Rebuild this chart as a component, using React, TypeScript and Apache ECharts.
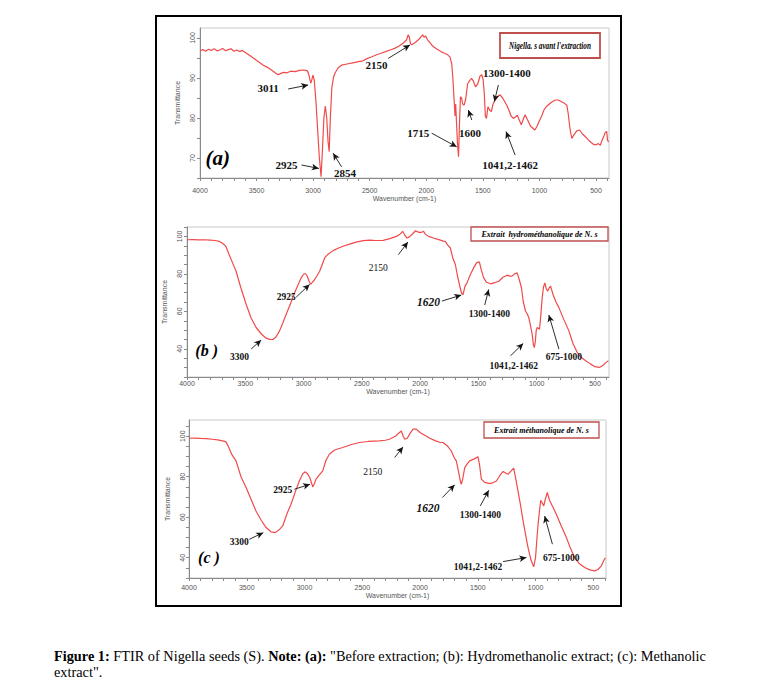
import React, { useEffect, useRef } from "react";
import * as echarts from "echarts";

type Pt = [number, number];
type Note = { text: string; at: Pt; from: Pt; to: Pt; kind?: "italic" | "plain" };

// ---------- spectra (wavenumber cm-1, transmittance %) ----------
const spectrumA: Pt[] = [
  [4000, 96.8], [3975, 97.1], [3950, 96.7], [3925, 97.2], [3900, 96.9], [3875, 97.3], [3850, 96.8],
  [3825, 97.0], [3800, 97.4], [3775, 96.8], [3750, 97.1], [3725, 97.3], [3700, 96.7], [3675, 97.0],
  [3650, 96.6], [3625, 96.9], [3600, 96.4], [3560, 95.6], [3520, 94.8], [3480, 94.0], [3440, 93.2],
  [3400, 92.6], [3360, 91.8], [3330, 91.2], [3310, 90.8], [3290, 91.1], [3260, 91.4], [3230, 91.3],
  [3200, 91.7], [3160, 91.6], [3120, 91.9], [3080, 92.0], [3050, 91.8], [3035, 90.5], [3022, 88.7],
  [3012, 89.5], [3002, 90.7], [2990, 89.5], [2975, 84], [2960, 77], [2945, 70], [2930, 65.3],
  [2918, 72], [2905, 80], [2892, 83], [2880, 80], [2868, 74], [2858, 71.6], [2848, 80], [2835, 87.5],
  [2820, 90.2], [2805, 91.3], [2780, 92.5], [2750, 93.2], [2700, 93.5], [2650, 93.8], [2600, 94.1],
  [2560, 94.3], [2520, 94.9], [2480, 95.3], [2440, 95.8], [2400, 96.2], [2360, 96.6], [2320, 97.0],
  [2280, 97.4], [2240, 98.0], [2200, 98.8], [2175, 99.5], [2160, 100.8], [2150, 100.2], [2140, 98.6],
  [2128, 98.3], [2110, 98.6], [2085, 99.2], [2060, 99.8], [2045, 100.4], [2032, 100.8], [2020, 100.2],
  [2005, 100.5], [1990, 99.6], [1970, 98.9], [1950, 98.2], [1930, 97.7], [1900, 97.1], [1870, 96.6],
  [1840, 96.2], [1810, 95.8], [1790, 95.2], [1775, 93.5], [1765, 90], [1755, 85], [1746, 80.5],
  [1740, 83.5], [1733, 79], [1725, 74], [1715, 70.3], [1706, 79], [1698, 85.3], [1688, 85],
  [1678, 83.5], [1665, 83.2], [1650, 85], [1635, 88.5], [1620, 89.2], [1600, 89.9], [1585, 89.3],
  [1565, 87.8], [1545, 88.5], [1525, 90.5], [1510, 90.8], [1498, 89.7], [1487, 86], [1478, 80.5],
  [1468, 79.9], [1455, 82.8], [1440, 82], [1425, 81.6], [1410, 83.5], [1392, 84.5], [1370, 85.3],
  [1348, 85.8], [1325, 85], [1305, 84], [1289, 83.2], [1270, 82], [1250, 80.5], [1230, 79.9],
  [1210, 80.3], [1195, 80.7], [1180, 79.6], [1160, 78.3], [1145, 79.5], [1127, 80.8], [1110, 79.8],
  [1097, 79.1], [1080, 78], [1060, 77.5], [1040, 77], [1020, 78], [1000, 79.3], [980, 80.5],
  [960, 82], [940, 82.8], [920, 83.3], [890, 84], [860, 84.5], [832, 84.5], [800, 84], [775, 83.6],
  [758, 83.2], [745, 81], [735, 78.5], [725, 76.5], [713, 74.9], [695, 75.8], [670, 76.8], [645, 77],
  [620, 76], [600, 75.5], [580, 74.9], [560, 74.3], [540, 73.8], [520, 73.4], [500, 73.3], [480, 73.6],
  [462, 73.2], [445, 74.5], [430, 75.5], [418, 76.4], [405, 76.6], [398, 74.5], [389, 74],
];

const spectrumB: Pt[] = [
  [4000, 98.2], [3950, 98.3], [3900, 98.1], [3850, 98.2], [3800, 98.0], [3760, 97.8], [3721, 97.3],
  [3700, 96.5], [3680, 95.5], [3665, 94.5], [3640, 90.5], [3610, 86], [3579, 81.4], [3540, 73],
  [3493, 63.8], [3450, 56.5], [3407, 51.4], [3360, 47.8], [3321, 45.7], [3290, 45.1], [3263, 45],
  [3235, 46.5], [3206, 49.6], [3180, 53.5], [3149, 58.5], [3110, 64.5], [3077, 69.9], [3045, 74.5],
  [3020, 77.9], [3000, 79.8], [2985, 80.2], [2970, 79], [2955, 76.5], [2940, 74.4], [2925, 75.5],
  [2905, 77], [2885, 79], [2862, 81.4], [2840, 85], [2819, 88.5], [2790, 90.5], [2747, 92.4],
  [2700, 93.8], [2650, 95], [2604, 95.9], [2550, 96.9], [2489, 97.7], [2430, 98], [2380, 97.8],
  [2317, 97.9], [2260, 98.8], [2203, 100], [2170, 101.3], [2150, 102.7], [2130, 100.5], [2114, 99.1],
  [2095, 99.6], [2070, 101], [2040, 103], [2020, 102.4], [2000, 102], [1985, 102.3], [1971, 102.7],
  [1955, 101.2], [1928, 100], [1880, 99], [1840, 98.3], [1800, 97.5], [1784, 97.3], [1765, 95.5],
  [1741, 93.8], [1720, 88.5], [1698, 85], [1680, 79], [1660, 73.5], [1645, 69.8], [1632, 69],
  [1615, 73.5], [1598, 75.2], [1570, 79.5], [1541, 83.2], [1515, 86], [1492, 86.4], [1475, 82],
  [1455, 77.9], [1430, 75.5], [1397, 74.7], [1360, 75.3], [1326, 76.1], [1290, 78.2], [1254, 79.3],
  [1232, 78.8], [1211, 78.8], [1190, 80], [1168, 80.5], [1150, 77], [1131, 72.6], [1115, 65],
  [1096, 60.2], [1080, 58.5], [1068, 56.7], [1052, 52], [1039, 47.8], [1028, 42], [1021, 40.7],
  [1012, 44], [1004, 50], [996, 51.4], [986, 51], [976, 50.5], [965, 58], [953, 67.3], [942, 73],
  [930, 75.2], [918, 72], [905, 70.8], [893, 72.5], [881, 73.5], [860, 69], [835, 65], [810, 62],
  [770, 56], [724, 49.6], [690, 43], [652, 38.1], [620, 35.5], [580, 33.7], [540, 32], [500, 30.5],
  [466, 30.1], [440, 30.8], [420, 31.9], [405, 32.8], [385, 33.7],
];

const spectrumC: Pt[] = [
  [4000, 99], [3950, 99.1], [3900, 98.9], [3850, 98.8], [3800, 98.5], [3750, 98.2], [3700, 97.6],
  [3680, 97.2], [3660, 95], [3630, 91], [3593, 87.8], [3550, 80], [3506, 74.7], [3460, 68.5],
  [3420, 63.1], [3375, 58.5], [3333, 54.9], [3290, 52.8], [3253, 52.4], [3220, 53.8], [3189, 55.7],
  [3150, 62], [3117, 66.4], [3080, 72.5], [3045, 77.9], [3015, 81.5], [2993, 82.4], [2975, 81.5],
  [2955, 79.6], [2940, 77], [2929, 75], [2915, 76.5], [2900, 78.8], [2870, 81], [2842, 82.9],
  [2815, 88], [2785, 91.1], [2740, 93.2], [2669, 94.4], [2600, 95.8], [2525, 96.9], [2450, 97.4],
  [2352, 97.7], [2300, 98], [2266, 98.5], [2230, 99.5], [2208, 100.2], [2185, 101.5], [2162, 102.6],
  [2145, 100], [2132, 98.5], [2110, 99], [2085, 101.5], [2060, 103.5], [2032, 103.5], [2010, 102.3],
  [1990, 101.5], [1974, 101], [1945, 100], [1916, 99], [1870, 97.8], [1830, 97], [1801, 96.9],
  [1760, 95], [1729, 92.7], [1705, 89.5], [1686, 87.8], [1665, 82], [1650, 77.5], [1642, 76.3],
  [1630, 79], [1613, 84.5], [1590, 86.5], [1570, 87.8], [1530, 88.8], [1498, 89.8], [1485, 86],
  [1469, 78.8], [1440, 77.2], [1397, 76.6], [1370, 77], [1339, 77.9], [1310, 80.5], [1281, 82.6],
  [1260, 81.8], [1238, 81.2], [1215, 82.6], [1189, 84.2], [1175, 80], [1152, 73], [1130, 66],
  [1108, 58.2], [1085, 51], [1065, 45], [1040, 39], [1016, 35.5], [1000, 40], [990, 48], [978, 56.5],
  [966, 63], [955, 68.4], [942, 67], [929, 65.6], [915, 69], [898, 72.2], [880, 68.5], [850, 65],
  [820, 61.5], [780, 56], [733, 50], [700, 45], [661, 40], [620, 37], [574, 35.2], [530, 34],
  [487, 33.5], [460, 34.2], [430, 36], [410, 38.5], [396, 40],
];

// ---------- axis ticks / labels ----------
const wavenumberLabels = [500, 1000, 1500, 2000, 2500, 3000, 3500, 4000];
const wavenumberTicks = [
  400, 500, 600, 700, 800, 900, 1000, 1100, 1200, 1300, 1400, 1500, 1600, 1700, 1800, 1900, 2000,
  2100, 2200, 2300, 2400, 2500, 2600, 2700, 2800, 2900, 3000, 3100, 3200, 3300, 3400, 3500, 3600,
  3700, 3800, 3900, 4000,
];
const yTicksA = [65, 70, 75, 80, 85, 90, 95, 100];
const yLabelsA = [70, 80, 90, 100];
const yTicksB = [25, 30, 35, 40, 45, 50, 55, 60, 65, 70, 75, 80, 85, 90, 95, 100, 105];
const yTicksC = [30, 35, 40, 45, 50, 55, 60, 65, 70, 75, 80, 85, 90, 95, 100, 105];
const yLabelsBC = [40, 60, 80, 100];

// ---------- annotations ----------
const notesA: Note[] = [
  { text: "3011", at: [3398, 87.4], from: [3221, 87.25], to: [3044, 88.25] },
  { text: "2925", at: [3235, 68.25], from: [3103, 68.25], to: [2950, 67.4] },
  { text: "2854", at: [2719, 66.2], from: [2749, 67.8], to: [2823, 71.2] },
  { text: "2150", at: [2439, 93.25], from: [2336, 94.9], to: [2144, 98.25] },
  { text: "1715", at: [2071, 76.2], from: [1952, 76.2], to: [1731, 72.8] },
  { text: "1600", at: [1613, 76.2], from: [1598, 79.5], to: [1628, 82] },
  { text: "1300-1400", at: [1288, 91.3], from: [1363, 88.25], to: [1398, 84.1] },
  { text: "1041,2-1462", at: [1259, 68.25], from: [1215, 70.75], to: [1295, 76.6] },
];
const notesB: Note[] = [
  { text: "3300", at: [3549, 35.8], from: [3450, 39.9], to: [3364, 44.7] },
  { text: "2925", at: [3149, 67.6], from: [3063, 67.6], to: [2948, 74.4] },
  { text: "2150", at: [2360, 83.2], from: [2186, 90.3], to: [2105, 97], kind: "plain" },
  { text: "1620", at: [1928, 65.1], from: [1813, 65.5], to: [1647, 68.7], kind: "italic" },
  { text: "1300-1400", at: [1406, 58.5], from: [1446, 63.4], to: [1412, 71.7] },
  { text: "1041,2-1462", at: [1197, 31], from: [1225, 36.3], to: [1116, 42.9] },
  { text: "675-1000", at: [767, 35.8], from: [810, 39.9], to: [896, 58.1] },
];
const notesC: Note[] = [
  { text: "3300", at: [3565, 48], from: [3478, 49.1], to: [3357, 52.4] },
  { text: "2925", at: [3189, 73.3], from: [3088, 73.8], to: [2952, 76.3] },
  { text: "2150", at: [2410, 82.1], from: [2219, 89.5], to: [2147, 94.7], kind: "plain" },
  { text: "1620", at: [1931, 64.4], from: [1807, 69.7], to: [1700, 76], kind: "italic" },
  { text: "1300-1400", at: [1478, 61.1], from: [1478, 65.6], to: [1405, 73.3] },
  { text: "1041,2-1462", at: [1498, 35.2], from: [1281, 38.1], to: [1079, 40.1] },
  { text: "675-1000", at: [777, 39.8], from: [854, 46.7], to: [921, 60.6] },
];

const panelLetters = ["(a)", "(b )", "(c )"];
const panelLetterAt: Pt[] = [[3843, 70], [3831, 39], [3827, 40.2]];
const legendTexts = [
  "Nigella. s avant l'extraction",
  "Extrait  hydrométhanolique de N. s",
  "Extrait méthanolique de N. s",
];
const xAxisTitle = "Wavenumber (cm-1)";
const yAxisTitle = "Transmittance";
const captionLine1 =
  '{b|Figure 1:} FTIR of Nigella seeds (S). {b|Note: (a):} "Before extraction; (b): Hydromethanolic extract; (c): Methanolic';
const captionLine2 = 'extract".';

// ---------- styling ----------
const serif = '"Liberation Serif", "Times New Roman", serif';
const sans = '"Liberation Sans", Arial, sans-serif';
const axisGrey = "#8a8a8a";
const labelGrey = "#555";
const captionSize = 14.3;

const panelLayout = [
  { grid: { left: 200, right: 157, top: 28, bottom: 511 }, yMin: 65, yMax: 102.5, xMin: 385,
    xMargin: 9, xNameGap: 17, yMargin: 4, yNameGap: 14, noteSize: 11, letterSize: 21 },
  { grid: { left: 187, right: 157, top: 227, bottom: 312 }, yMin: 25, yMax: 105, xMin: 380,
    xMargin: 3, xNameGap: 10, yMargin: 4, yNameGap: 11, noteSize: 9.5, letterSize: 16 },
  { grid: { left: 189, right: 160, top: 420, bottom: 111 }, yMin: 30, yMax: 108, xMin: 390,
    xMargin: 6, xNameGap: 13, yMargin: 3, yNameGap: 11, noteSize: 9.5, letterSize: 16 },
];

function buildOption() {
  const spectra = [spectrumA, spectrumB, spectrumC];
  const notes = [notesA, notesB, notesC];
  const yTicks = [yTicksA, yTicksB, yTicksC];
  const yLabels = [yLabelsA, yLabelsBC, yLabelsBC];
  const plain = (v: number) => String(v);

  const grid = panelLayout.map((p) => ({
    ...p.grid,
    show: true,
    borderColor: "#c8c8c8",
    borderWidth: 1,
    backgroundColor: "#fff",
  }));

  const xAxis = panelLayout.map((p, i) => ({
    type: "value",
    gridIndex: i,
    min: p.xMin,
    max: 4000,
    inverse: true,
    name: xAxisTitle,
    nameLocation: "middle",
    nameGap: p.xNameGap,
    nameTextStyle: { fontSize: 7, color: labelGrey, fontFamily: sans },
    axisLine: { show: true, onZero: false, lineStyle: { color: axisGrey, width: 1 } },
    axisTick: { show: true, length: 3, customValues: wavenumberTicks, lineStyle: { color: axisGrey } },
    axisLabel: {
      customValues: wavenumberLabels,
      formatter: plain,
      fontSize: 7,
      color: labelGrey,
      margin: p.xMargin,
      fontFamily: sans,
    },
    splitLine: { show: false },
  }));

  const yAxis = panelLayout.map((p, i) => ({
    type: "value",
    gridIndex: i,
    min: p.yMin,
    max: p.yMax,
    name: yAxisTitle,
    nameLocation: "middle",
    nameGap: p.yNameGap,
    nameTextStyle: { fontSize: 7, color: labelGrey, fontFamily: sans },
    axisLine: { show: true, onZero: false, lineStyle: { color: axisGrey, width: 1 } },
    axisTick: { show: true, length: 3, customValues: yTicks[i], lineStyle: { color: axisGrey } },
    axisLabel: {
      customValues: yLabels[i],
      formatter: plain,
      rotate: 90,
      fontSize: 7,
      color: labelGrey,
      margin: p.yMargin,
      fontFamily: sans,
    },
    splitLine: { show: false },
  }));

  const series = panelLayout.map((p, i) => ({
    type: "line",
    xAxisIndex: i,
    yAxisIndex: i,
    data: spectra[i],
    symbol: "none",
    showSymbol: false,
    lineStyle: { color: "#f04a4a", width: 1.2 },
    emphasis: { disabled: true },
    silent: true,
    markLine: {
      silent: true,
      symbol: ["none", "arrow"],
      symbolSize: [5, 7],
      lineStyle: { color: "#151515", width: 0.9, type: "solid" },
      label: { show: false },
      emphasis: { disabled: true },
      data: notes[i].map((n) => [{ coord: n.from }, { coord: n.to }]),
    },
    markPoint: {
      silent: true,
      symbol: "circle",
      symbolSize: 1,
      itemStyle: { color: "transparent" },
      emphasis: { disabled: true },
      label: {
        show: true,
        position: "inside",
        formatter: "{b}",
        color: "#111",
        fontFamily: serif,
        fontWeight: "bold",
        fontSize: p.noteSize,
      },
      data: [
        ...notes[i].map((n) => ({
          name: n.text,
          coord: n.at,
          label:
            n.kind === "italic"
              ? { fontStyle: "italic", fontSize: 11.5 }
              : n.kind === "plain"
              ? { fontWeight: "normal" }
              : {},
        })),
        {
          name: panelLetters[i],
          coord: panelLetterAt[i],
          label: { fontStyle: "italic", fontWeight: "bold", fontSize: p.letterSize, color: "#000" },
        },
      ],
    },
  }));

  const legendBoxes = [
    { x: 500, y: 33, w: 100, h: 25, size: 10, sx: 0.72, lw: 1.8 },
    { x: 471, y: 227, w: 137, h: 14, size: 8, sx: 1, lw: 1.3 },
    { x: 484, y: 422, w: 115, h: 16, size: 8, sx: 1, lw: 1.3 },
  ];

  const graphic: any[] = [
    {
      type: "rect",
      silent: true,
      shape: { x: 156, y: 16, width: 465, height: 590 },
      style: { fill: "none", stroke: "#000", lineWidth: 2 },
    },
    ...legendBoxes.map((b, i) => ({
      type: "group",
      silent: true,
      children: [
        {
          type: "rect",
          shape: { x: b.x, y: b.y, width: b.w, height: b.h },
          style: { fill: "#fff", stroke: "#c0504d", lineWidth: b.lw },
        },
        {
          type: "text",
          x: b.x + b.w / 2,
          y: b.y + b.h / 2,
          scaleX: b.sx,
          style: {
            text: legendTexts[i],
            fontSize: b.size,
            fontFamily: serif,
            fontStyle: "italic",
            fontWeight: "bold",
            fill: "#000",
            align: "center",
            verticalAlign: "middle",
          },
        },
      ],
    })),
    {
      type: "text",
      silent: true,
      x: 54,
      y: 649,
      style: {
        text: captionLine1,
        fontSize: captionSize,
        fontFamily: serif,
        fill: "#000",
        rich: { b: { fontWeight: "bold", fontSize: captionSize, fontFamily: serif, fill: "#000" } },
      },
    },
    {
      type: "text",
      silent: true,
      x: 54,
      y: 665,
      style: { text: captionLine2, fontSize: captionSize, fontFamily: serif, fill: "#000" },
    },
  ];

  return {
    animation: false,
    backgroundColor: "#fff",
    grid,
    xAxis,
    yAxis,
    series,
    graphic,
  };
}

export default function App() {
  const ref = useRef<HTMLDivElement>(null);
  useEffect(() => {
    const chart = echarts.init(ref.current!, null, { renderer: "svg" });
    chart.setOption(buildOption() as any);
    return () => chart.dispose();
  }, []);
  return (
    <div
      ref={ref}
      style={{ position: "absolute", left: 0, top: 0, width: 766, height: 689, background: "#fff" }}
    />
  );
}
